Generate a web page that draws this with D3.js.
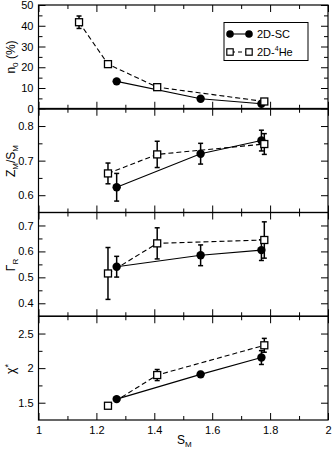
<!DOCTYPE html>
<html><head><meta charset="utf-8">
<script src="https://cdn.jsdelivr.net/npm/d3@7/dist/d3.min.js"></script>
<style>body{margin:0;background:#fff}svg{display:block;font-family:"Liberation Sans",Arial,sans-serif}</style>
</head><body><svg id="c" width="332" height="451"></svg>
<script>
// ---- data ----
const xMajor = [1, 1.2, 1.4, 1.6, 1.8, 2];
const xMinor = [1.1, 1.3, 1.5, 1.7, 1.9];
const scX = [1.27, 1.56, 1.77];
const heX = [1.14, 1.24, 1.41, 1.78];
// n0 (%)
const scN0 = [13.2, 4.8, 2.4];
const scN0Err = [0, 0, 0];
const heN0 = [41.7, 21.5, 10.4, 3.5];
const heN0Err = [3, 0, 0, 0];
// Z_M/S_M
const scZ = [0.623, 0.72, 0.758];
const scZErr = [0.04, 0.03, 0.03];
const heZ = [null, 0.663, 0.718, 0.748];
const heZErr = [0, 0.03, 0.038, 0.03];
// Gamma_R
const scG = [0.541, 0.585, 0.605];
const scGErr = [0.04, 0.04, 0.04];
const heG = [null, 0.515, 0.631, 0.644];
const heGErr = [0, 0.1, 0.06, 0.07];
// chi*
const scC = [1.552, 1.91, 2.153];
const scCErr = [0.02, 0.04, 0.1];
const heC = [null, 1.456, 1.90, 2.33];
const heCErr = [0, 0.03, 0.08, 0.1];

const panelDomains = [[0, 50], [0.55, 0.85], [0.35, 0.75], [1.25, 2.75]];
const panelMajor = [[0, 10, 20, 30, 40, 50], [0.6, 0.7, 0.8], [0.4, 0.5, 0.6, 0.7], [1.5, 2, 2.5]];
const panelMinor = [[5, 15, 25, 35, 45], [0.65, 0.75], [0.45, 0.55, 0.65], [1.75, 2.25]];
const panelSC = [[scN0, scN0Err], [scZ, scZErr], [scG, scGErr], [scC, scCErr]];
const panelHe = [[heN0, heN0Err], [heZ, heZErr], [heG, heGErr], [heC, heCErr]];

// ---- layout ----
const L = 38.5, R = 328, T = 5, B = 420;
const ph = (B - T) / 4;
const svg = d3.select("#c");
const x = d3.scaleLinear().domain([1, 2]).range([L, R]);
const fmt = d => String(d);

panelDomains.forEach((dom, i) => {
  const top = T + i * ph, bot = top + ph;
  const y = d3.scaleLinear().domain(dom).range([bot, top]);
  const g = svg.append("g");

  const addAxis = (axis, tr, labels) => {
    const a = g.append("g").attr("transform", tr).call(axis);
    a.select(".domain").remove();
    a.selectAll("line").attr("stroke", "#000").attr("stroke-width", 1);
    a.selectAll("text").attr("font-size", 11).attr("fill", "#000")
      .attr("font-family", '"Liberation Sans",Arial,sans-serif');
    if (!labels) a.selectAll("text").remove();
    return a;
  };
  addAxis(d3.axisLeft(y).tickValues(panelMajor[i]).tickSize(-7).tickPadding(5).tickFormat(fmt), `translate(${L},0)`, true);
  addAxis(d3.axisLeft(y).tickValues(panelMinor[i]).tickSize(-4), `translate(${L},0)`, false);
  addAxis(d3.axisRight(y).tickValues(panelMajor[i]).tickSize(-7), `translate(${R},0)`, false);
  addAxis(d3.axisRight(y).tickValues(panelMinor[i]).tickSize(-4), `translate(${R},0)`, false);
  addAxis(d3.axisTop(x).tickValues(xMajor).tickSize(-7), `translate(0,${top})`, false);
  addAxis(d3.axisTop(x).tickValues(xMinor).tickSize(-4), `translate(0,${top})`, false);
  addAxis(d3.axisBottom(x).tickValues(xMajor).tickSize(-7).tickPadding(6).tickFormat(fmt), `translate(0,${bot})`, i === 3);
  addAxis(d3.axisBottom(x).tickValues(xMinor).tickSize(-4), `translate(0,${bot})`, false);

  if (i === 0) {
    g.append("line").attr("x1", L).attr("x2", R).attr("y1", y(0)).attr("y2", y(0))
      .attr("stroke", "#666").attr("stroke-width", 2.2);
  }

  g.append("rect").attr("x", L).attr("y", top).attr("width", R - L).attr("height", ph)
    .attr("fill", "none").attr("stroke", "#000").attr("stroke-width", 1.2);

  const scPts = scX.map((xv, k) => ({x: xv, y: panelSC[i][0][k], e: panelSC[i][1][k]}));
  const hePts = heX.map((xv, k) => ({x: xv, y: panelHe[i][0][k], e: panelHe[i][1][k]})).filter(d => d.y != null);
  const line = d3.line().x(d => x(d.x)).y(d => y(d.y));

  g.append("path").datum(hePts).attr("d", line).attr("fill", "none")
    .attr("stroke", "#000").attr("stroke-width", 1.1).attr("stroke-dasharray", "5,3");
  g.append("path").datum(scPts).attr("d", line).attr("fill", "none")
    .attr("stroke", "#000").attr("stroke-width", 1.1);

  const errBars = (pts) => {
    pts.filter(d => d.e > 0).forEach(d => {
      const cx = x(d.x), y1 = y(d.y - d.e), y2 = y(d.y + d.e);
      g.append("line").attr("x1", cx).attr("x2", cx).attr("y1", y1).attr("y2", y2)
        .attr("stroke", "#000").attr("stroke-width", 1.5);
      [y1, y2].forEach(yy => g.append("line").attr("x1", cx - 2.5).attr("x2", cx + 2.5)
        .attr("y1", yy).attr("y2", yy).attr("stroke", "#000").attr("stroke-width", 1.5));
    });
  };
  errBars(scPts);
  errBars(hePts);

  g.selectAll(".sc").data(scPts).join("circle")
    .attr("cx", d => x(d.x)).attr("cy", d => y(d.y)).attr("r", 4.2).attr("fill", "#000");
  g.selectAll(".he").data(hePts).join("rect")
    .attr("x", d => x(d.x) - 3.5).attr("y", d => y(d.y) - 3.5).attr("width", 7).attr("height", 7)
    .attr("fill", "#fff").attr("stroke", "#000").attr("stroke-width", 1.3);
});

// ---- axis titles ----
const yLab = (cx, cy, html) => {
  svg.append("text").attr("transform", `translate(${cx},${cy}) rotate(-90)`)
    .attr("text-anchor", "middle").attr("font-size", 12).attr("fill", "#000").html(html);
};
yLab(15, 57, 'n<tspan font-size="8" dy="3">0</tspan><tspan dy="-3"> (%)</tspan>');
yLab(15, 161, 'Z<tspan font-size="8" dy="3">M</tspan><tspan dy="-3">/S</tspan><tspan font-size="8" dy="3">M</tspan>');
yLab(15, 265, 'Γ<tspan font-size="8" dy="3">R</tspan>');
yLab(15, 369, 'χ<tspan font-size="9" dy="-4">*</tspan>');

svg.append("text").attr("x", 177).attr("y", 444).attr("font-size", 12).attr("fill", "#000")
  .html('S<tspan font-size="8" dy="3">M</tspan>');

// ---- legend ----
const lg = svg.append("g");
lg.append("rect").attr("x", 224).attr("y", 22.5).attr("width", 84).attr("height", 38)
  .attr("fill", "#fff").attr("stroke", "#000").attr("stroke-width", 1);
lg.append("line").attr("x1", 230).attr("x2", 249).attr("y1", 34).attr("y2", 34).attr("stroke", "#000").attr("stroke-width", 1.1);
[230, 249].forEach(cx => lg.append("circle").attr("cx", cx).attr("cy", 34).attr("r", 3.8).attr("fill", "#000"));
lg.append("line").attr("x1", 230).attr("x2", 249).attr("y1", 52).attr("y2", 52).attr("stroke", "#000").attr("stroke-width", 1.1).attr("stroke-dasharray", "4,3").attr("stroke-dashoffset", -1);
[230, 249].forEach(cx => lg.append("rect").attr("x", cx - 3.2).attr("y", 48.8).attr("width", 6.4).attr("height", 6.4)
  .attr("fill", "#fff").attr("stroke", "#000").attr("stroke-width", 1.2));
lg.append("text").attr("x", 257).attr("y", 38).attr("font-size", 11).text("2D-SC");
lg.append("text").attr("x", 257).attr("y", 56).attr("font-size", 11)
  .html('2D-<tspan font-size="7" dy="-5">4</tspan><tspan dy="5">He</tspan>');
</script></body></html>
